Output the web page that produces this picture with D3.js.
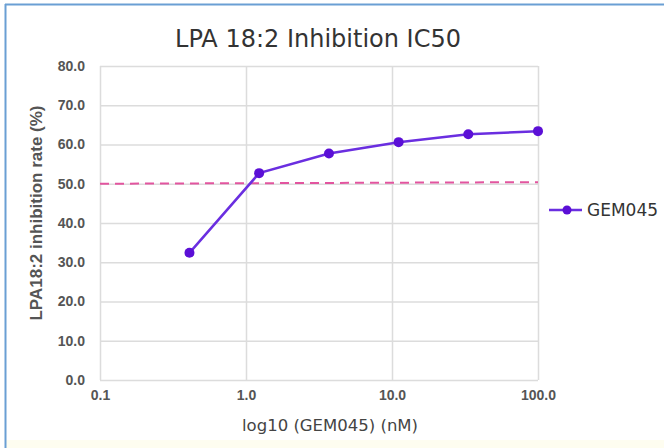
<!DOCTYPE html>
<html><head><meta charset="utf-8">
<script src="https://cdn.jsdelivr.net/npm/d3@7"></script>
<style>html,body{margin:0;padding:0;background:#fff;}svg{display:block;}</style>
</head><body>
<script>
const concentrations = [0.41, 1.23, 3.7, 11.1, 33.3, 100];
const inhibition = [32.4, 52.7, 57.7, 60.6, 62.6, 63.4];
const seriesName = "GEM045";
const refX = [0.1, 100];
const refY = [50.0, 50.4];
const xTicks = [0.1, 1, 10, 100];
const yTicks = [0, 10, 20, 30, 40, 50, 60, 70, 80];

const W = 664, H = 448;
const svg = d3.select("body").append("svg").attr("width", W).attr("height", H);

// frame
svg.append("rect").attr("x", 0).attr("y", 0).attr("width", W).attr("height", H).attr("fill", "#fff");
svg.append("rect").attr("x", 6).attr("y", 440).attr("width", W - 6).attr("height", 8).attr("fill", "#fefdf0");
svg.append("line").attr("x1", 5).attr("x2", W).attr("y1", 4.5).attr("y2", 4.5).attr("stroke", "#6a9fd4").attr("stroke-width", 2);
svg.append("line").attr("x1", 5.5).attr("x2", 5.5).attr("y1", 4).attr("y2", H).attr("stroke", "#6a9fd4").attr("stroke-width", 2);

const m = {left: 100, right: 538, top: 66, bottom: 380};
const x = d3.scaleLog().domain([0.1, 100]).range([m.left, m.right]);
const y = d3.scaleLinear().domain([0, 80]).range([m.bottom, m.top]);

// gridlines
const g = svg.append("g");
g.selectAll(".hg").data(yTicks).join("line")
  .attr("x1", m.left).attr("x2", m.right)
  .attr("y1", d => y(d) + 0.5).attr("y2", d => y(d) + 0.5)
  .attr("stroke", "#dcdcdc").attr("stroke-width", 1.5);
g.selectAll(".vg").data(xTicks).join("line")
  .attr("x1", d => x(d) + 0.5).attr("x2", d => x(d) + 0.5)
  .attr("y1", m.top).attr("y2", m.bottom)
  .attr("stroke", "#dcdcdc").attr("stroke-width", 1.5);

const tickFont = "Liberation Sans, Arial, sans-serif";
// axes (labels only)
const yAxis = d3.axisLeft(y).tickValues(yTicks).tickFormat(d3.format(".1f")).tickSize(0).tickPadding(15);
const ya = svg.append("g").attr("transform", `translate(${m.left},0)`).call(yAxis);
ya.select(".domain").remove();
ya.selectAll("text").attr("font-family", tickFont).attr("font-weight", "bold")
  .attr("font-size", 14).attr("fill", "#555");

const xAxis = d3.axisBottom(x).tickValues(xTicks).tickFormat(d3.format(".1f")).tickSize(0).tickPadding(10);
const xa = svg.append("g").attr("transform", `translate(0,${m.bottom})`).call(xAxis);
xa.select(".domain").remove();
xa.selectAll("text").attr("font-family", tickFont).attr("font-weight", "bold")
  .attr("font-size", 14).attr("fill", "#555");

// reference dashed line
svg.append("path")
  .attr("d", d3.line().x(d => x(d[0])).y(d => y(d[1]))(d3.zip(refX, refY)))
  .attr("fill", "none").attr("stroke", "#e2559f").attr("stroke-width", 2)
  .attr("stroke-dasharray", "9,6");

// series
const pts = d3.zip(concentrations, inhibition);
svg.append("path")
  .attr("d", d3.line().x(d => x(d[0])).y(d => y(d[1]))(pts))
  .attr("fill", "none").attr("stroke", "#6a2ee0").attr("stroke-width", 2.5);
svg.selectAll(".pt").data(pts).join("circle")
  .attr("cx", d => x(d[0])).attr("cy", d => y(d[1])).attr("r", 5)
  .attr("fill", "#5b0fd6");

// title
svg.append("text").attr("x", 318).attr("y", 47).attr("text-anchor", "middle")
  .attr("font-family", "DejaVu Sans, sans-serif").attr("font-size", 24).attr("fill", "#333")
  .text("LPA 18:2 Inhibition IC50");

// axis titles
svg.append("text").attr("transform", `translate(42,213) rotate(-90)`)
  .attr("text-anchor", "middle").attr("font-family", tickFont)
  .attr("font-weight", "bold").attr("font-size", 17).attr("fill", "#555")
  .text("LPA18:2 inhibition rate (%)");
svg.append("text").attr("x", 330).attr("y", 431).attr("text-anchor", "middle")
  .attr("font-family", "DejaVu Sans, sans-serif").attr("font-size", 16.5).attr("fill", "#444")
  .text("log10 (GEM045) (nM)");

// legend
const lg = svg.append("g").attr("transform", "translate(549,210)");
lg.append("line").attr("x1", 0).attr("x2", 33).attr("y1", 0).attr("y2", 0).attr("stroke", "#6a2ee0").attr("stroke-width", 2.5);
lg.append("circle").attr("cx", 18).attr("cy", 0).attr("r", 4.5).attr("fill", "#5b0fd6");
lg.append("text").attr("x", 38).attr("y", 6).attr("font-family", "DejaVu Sans, sans-serif")
  .attr("font-size", 17).attr("fill", "#333").text(seriesName);
</script>
</body></html>
